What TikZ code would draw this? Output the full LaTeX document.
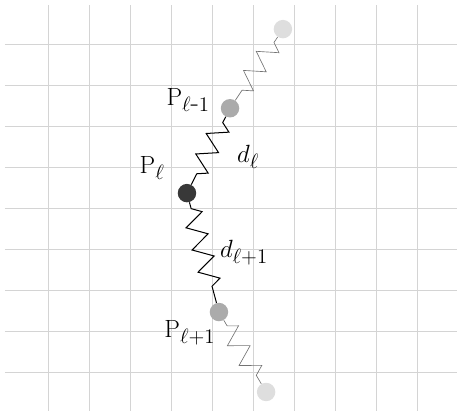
\documentclass[tikz,border=0pt]{standalone}
\usetikzlibrary{decorations.pathmorphing, positioning}

\begin{document}
\begin{tikzpicture}[
  font=\fontsize{19}{21}\selectfont,
  griglia/.style={draw=black!17, line width=0.35pt},
  perla/.style={circle, inner sep=0pt, minimum size=0.45cm},
  molla/.style={decorate, decoration={zigzag, segment length=0.56cm,
                amplitude=0.24cm, pre length=0.16cm, post length=0.16cm}},
  forte/.style={molla, draw=black, line width=0.7pt},
  debole/.style={molla, draw=black!55, line width=0.45pt}
]

%--------------------------------------------------------------
% Cornice e griglia
%--------------------------------------------------------------
\useasboundingbox (-1.17,-1.03) rectangle (10.0,9.07);
\foreach \x in {0,...,9}{
  \draw[griglia] (\x,-0.95) -- (\x,8.95);
}
\foreach \y in {0,...,8}{
  \draw[griglia] (-1.05,\y) -- (9.98,\y);
}

%--------------------------------------------------------------
% Le perle della catena
%--------------------------------------------------------------
\node[perla, fill=black!13] (ptop)  at (5.73,8.36) {};
\node[perla, fill=black!33] (pprev) at (4.44,6.43) {};
\node[perla, fill=black!78] (pcur)  at (3.39,4.36) {};
\node[perla, fill=black!33] (pnext) at (4.17,1.46) {};
\node[perla, fill=black!13] (pbot)  at (5.32,-0.49) {};

%--------------------------------------------------------------
% Molle
%--------------------------------------------------------------
\draw[debole] (ptop) -- (pprev);
\draw[forte] (pprev) -- (pcur);
\draw[forte] (pcur) -- (pnext);
\draw[debole] (pnext) -- (pbot);

%--------------------------------------------------------------
% Etichette
%--------------------------------------------------------------
\node (lprev) at (3.42,6.63) {$\mathrm{P}_{\ell\mbox{-}1}$};
\node (lcur)  at (2.54,4.97) {$\mathrm{P}_{\ell}$};
\node (lnext) at (3.46,0.95) {$\mathrm{P}_{\ell+1}$};
\node (dcur)  at (4.88,5.24) {$d_{\ell}$};
\node (dnext) at (4.78,2.90) {$d_{\ell+1}$};

\end{tikzpicture}
\end{document}
